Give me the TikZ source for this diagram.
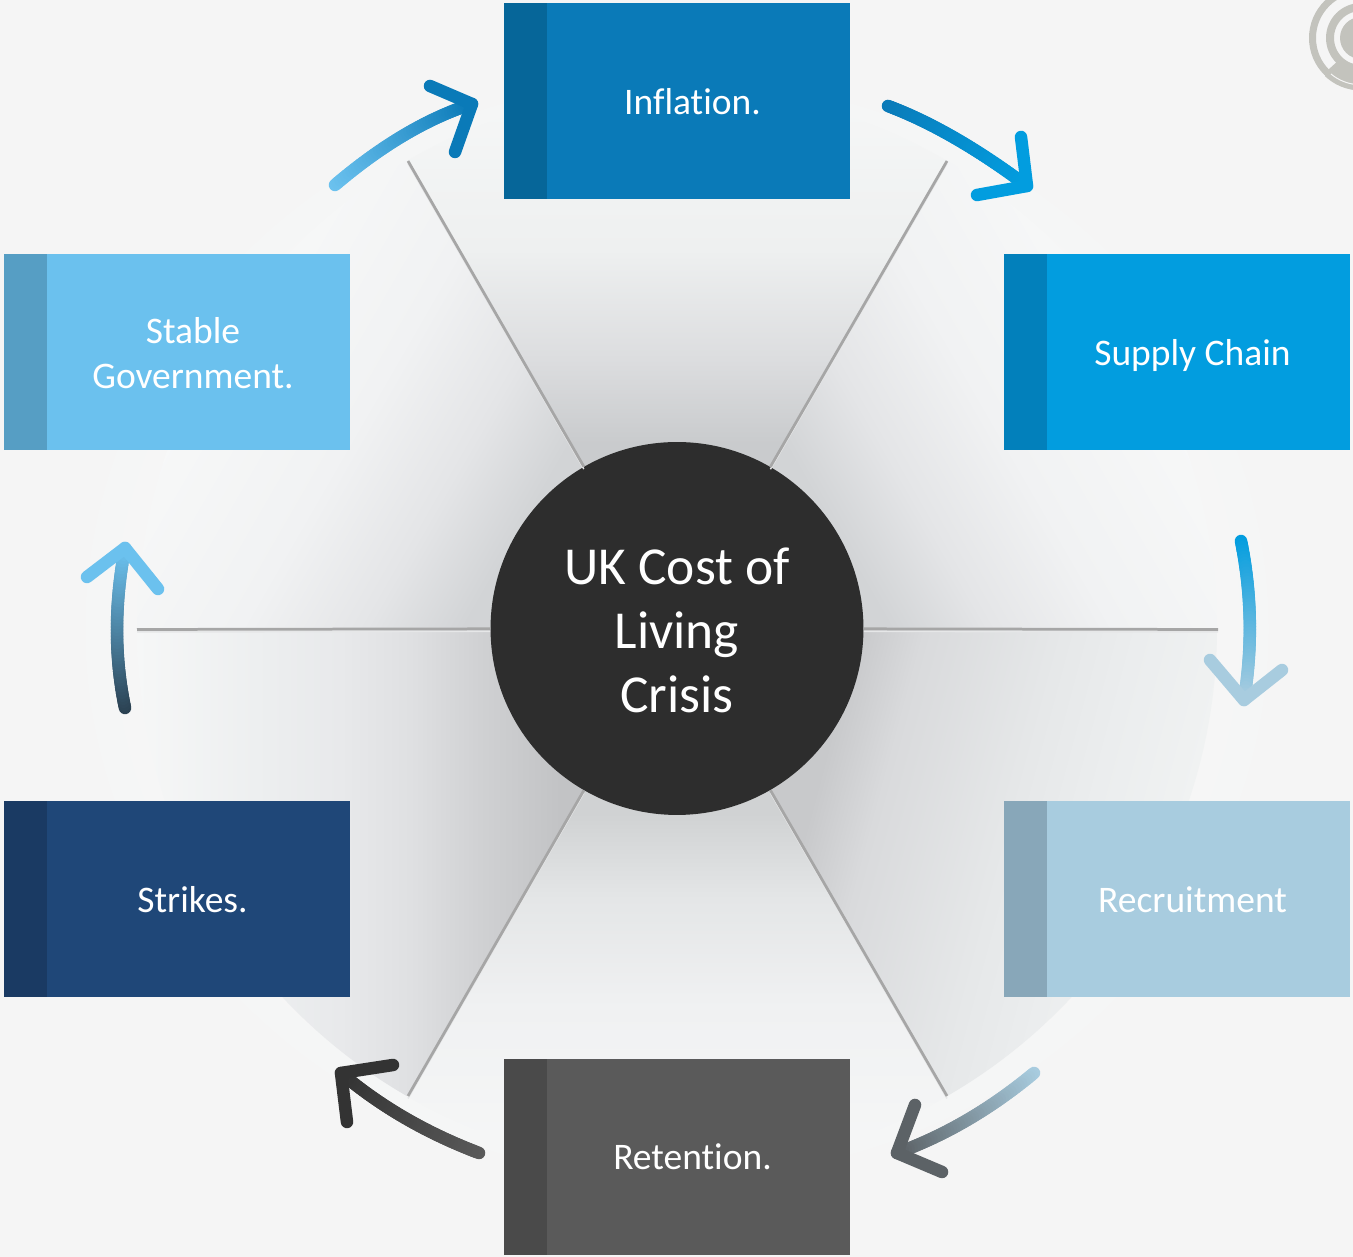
\documentclass[tikz,border=0pt]{standalone}
\usepackage{fontspec}
\setmainfont[Ligatures=NoCommon]{Carlito}
\usetikzlibrary{positioning,calc}
\definecolor{bgmid}{HTML}{F8F9F9}
\definecolor{bgout}{HTML}{F5F5F5}
\definecolor{hubgray}{HTML}{2D2D2D}
\definecolor{spokegray}{HTML}{A6A6A6}
\definecolor{spokeedge}{HTML}{E6E7E8}
\definecolor{logogray}{HTML}{C3C3BD}
\definecolor{inflmain}{HTML}{0A7AB8}
\definecolor{inflside}{HTML}{066699}
\definecolor{supplymain}{HTML}{029DDF}
\definecolor{supplyside}{HTML}{0280BB}
\definecolor{recrmain}{HTML}{A8CCDF}
\definecolor{recrside}{HTML}{88A7B9}
\definecolor{retnmain}{HTML}{5A5A5A}
\definecolor{retnside}{HTML}{4A4A4A}
\definecolor{strkmain}{HTML}{1F4778}
\definecolor{strkside}{HTML}{1A3A63}
\definecolor{stabmain}{HTML}{6BC1EE}
\definecolor{stabside}{HTML}{569EC4}
\definecolor{fourtip}{HTML}{5C6266}
\definecolor{fivetip}{HTML}{333333}
\definecolor{sixtail}{HTML}{2B4152}
% sector colours, from the hub out to the rim
\definecolor{topA}{HTML}{C9CBCD}
\definecolor{topB}{HTML}{DCDDDF}
\definecolor{topC}{HTML}{EEF0F0}
\definecolor{topD}{HTML}{F6F7F7}
\definecolor{sideA}{HTML}{D2D4D6}
\definecolor{sideB}{HTML}{E4E5E7}
\definecolor{sideC}{HTML}{F1F2F3}
\definecolor{sideD}{HTML}{F7F8F8}
\definecolor{botA}{HTML}{D0D2D3}
\definecolor{botB}{HTML}{E4E6E7}
\definecolor{botC}{HTML}{F0F1F2}
\definecolor{botD}{HTML}{F6F7F7}
\definecolor{lrA}{HTML}{C8C9CB}
\definecolor{lrB}{HTML}{D9DADC}
\definecolor{lrC}{HTML}{E6E8E9}
\definecolor{lrD}{HTML}{EBEDEE}
\definecolor{lrE}{HTML}{F0F2F2}
\definecolor{llA}{HTML}{C2C3C5}
\definecolor{llB}{HTML}{D0D1D3}
\definecolor{llC}{HTML}{DFE0E2}
\definecolor{llD}{HTML}{E8E9EB}
\definecolor{llE}{HTML}{ECEEEF}
\definecolor{llF}{HTML}{F6F7F7}
\pgfdeclarehorizontalshading{topshade}{620bp}{color(0bp)=(topA); color(105bp)=(topA); color(153bp)=(topB); color(215bp)=(topC); color(307bp)=(topD)}
\pgfdeclarehorizontalshading{sideshade}{620bp}{color(0bp)=(sideA); color(105bp)=(sideA); color(153bp)=(sideB); color(215bp)=(sideC); color(307bp)=(sideD)}
\pgfdeclarehorizontalshading{botshade}{620bp}{color(0bp)=(botA); color(105bp)=(botA); color(153bp)=(botB); color(215bp)=(botC); color(307bp)=(botD)}
\pgfdeclarehorizontalshading{lrshade}{620bp}{color(0bp)=(lrA); color(100bp)=(lrA); color(136bp)=(lrB); color(213bp)=(lrC); color(254bp)=(lrD); color(307bp)=(lrE)}
\pgfdeclarehorizontalshading{llshade}{620bp}{color(0bp)=(llA); color(66bp)=(llA); color(112bp)=(llB); color(151bp)=(llC); color(191bp)=(llD); color(231bp)=(llE); color(307bp)=(llF)}
\tikzset{
  tagbox/.style={rectangle, inner sep=0pt, outer sep=0pt, minimum width=6.92cm, minimum height=3.92cm},
  tagside/.style={rectangle, inner sep=0pt, outer sep=0pt, minimum width=0.86cm, minimum height=3.92cm},
  tagtext/.style={text=white, align=center, font=\fontsize{21.35}{25.5}\selectfont},
  hubnode/.style={circle, inner sep=0pt, minimum size=7.46cm, fill=hubgray},
  hubtext/.style={text=white, align=center, font=\fontsize{30.4}{36.6}\selectfont},
  spoke/.style={draw=spokegray, line width=0.055cm,
    preaction={draw=spokeedge, line width=0.03cm, transform canvas={yshift=-0.05cm}}}
}
% one sector: angle of its middle, angle of its gradient, shading
\newcommand{\hubsector}[3]{
  \begin{scope}
  \clip (677,628.5) -- ++(#1-30:540) arc[start angle=#1-30, end angle=#1+30, radius=540] -- cycle;
  \begin{scope}[transform canvas={shift={(677,628.5)},rotate=#2}]
  \pgftext[left,at=\pgfpointorigin]{\pgfuseshading{#3}}
  \end{scope}
  \end{scope}
}
% gradient arrow: name, start, control, tip, wing, wing, colours
\newcommand{\ringarrow}[8]{
  \coordinate (#1s) at #2;
  \coordinate (#1c) at #3;
  \coordinate (#1e) at #4;
  \coordinate (#1a) at #5;
  \coordinate (#1b) at #6;
  \foreach \k [evaluate=\k as \t using \k/50, evaluate=\k as \u using (\k+1)/50, evaluate=\k as \p using 2*\k] in {0,...,49}
    \draw[line width=0.25cm, line cap=round, draw=#8!\p!#7]
      ($($(#1s)!\t!(#1c)$)!\t!($(#1c)!\t!(#1e)$)$) -- ($($(#1s)!\u!(#1c)$)!\u!($(#1c)!\u!(#1e)$)$);
  \draw[line width=0.25cm, line cap=round, line join=round, draw=#8] (#1a) -- (#1e) -- (#1b);
}
\begin{document}
\begin{tikzpicture}[x=0.02cm,y=0.02cm]
\useasboundingbox (0,0) rectangle (1353,1257);
\shade[inner color=bgmid, outer color=bgout] (0,0) rectangle (1353,1257);

% faint mark in the corner
\begin{scope}
\clip (1361,1219) circle (52.5);
\draw[logogray, line width=0.14cm] (1361,1219) circle (48.5);
\draw[logogray, line width=0.16cm] (1361,1219) circle (31);
\fill[logogray] (1361,1219) circle (21);
\fill[logogray] (1328,1187) -- (1339,1197) -- (1353,1193) -- (1353,1150) -- (1310,1150) -- cycle;
\draw[bgout, line width=0.02cm] (1331,1183) arc[start angle=230, end angle=265, radius=46];
\end{scope}

% the six sectors
\hubsector{30}{30}{sideshade}
\hubsector{90}{90}{topshade}
\hubsector{150}{150}{sideshade}
\hubsector{210}{180}{llshade}
\hubsector{270}{270}{botshade}
\hubsector{330}{345}{lrshade}

\node[hubnode] (hub) at (677,628.5) {};
\node[hubtext] (hubtitle) at (677,626.5) {UK Cost of\\Living\\Crisis};
\coordinate (rimA) at (1218,627.5);
\coordinate (rimB) at (947,1096);
\coordinate (rimC) at (408,1096);
\coordinate (rimD) at (137,627.5);
\coordinate (rimE) at (408,161);
\coordinate (rimF) at (947,161);
\draw[spoke] (hub) -- (rimA);
\draw[spoke] (hub) -- (rimB);
\draw[spoke] (hub) -- (rimC);
\draw[spoke] (hub) -- (rimD);
\draw[spoke] (hub) -- (rimE);
\draw[spoke] (hub) -- (rimF);

\node[tagbox, fill=inflmain] (infl) at (677,1156) {};
\node[tagside, fill=inflside, right=0pt of infl.west] (inflside) {};
\node[tagtext] (infltext) at (692.5,1155) {Inflation.};

\node[tagbox, fill=supplymain] (supply) at (1177,905) {};
\node[tagside, fill=supplyside, right=0pt of supply.west] (supplyside) {};
\node[tagtext] (supplytext) at (1192.5,901) {Supply Chain};

\node[tagbox, fill=recrmain] (recr) at (1177,358) {};
\node[tagside, fill=recrside, right=0pt of recr.west] (recrside) {};
\node[tagtext] (recrtext) at (1192.5,357) {Recruitment};

\node[tagbox, fill=retnmain] (retn) at (677,100) {};
\node[tagside, fill=retnside, right=0pt of retn.west] (retnside) {};
\node[tagtext] (retntext) at (692.5,100) {Retention.};

\node[tagbox, fill=strkmain] (strk) at (177,358) {};
\node[tagside, fill=strkside, right=0pt of strk.west] (strkside) {};
\node[tagtext] (strktext) at (192.5,357) {Strikes.};

\node[tagbox, fill=stabmain] (stab) at (177,905) {};
\node[tagside, fill=stabside, right=0pt of stab.west] (stabside) {};
\node[tagtext] (stabtext) at (193,904) {Stable\\Government.};

\ringarrow{one}{(335,1072)}{(405,1131.5)}{(472,1153)}{(430,1171)}{(455,1105)}{stabmain}{inflmain}
\ringarrow{two}{(888,1151)}{(952,1127)}{(1027,1071)}{(1021,1120)}{(977,1062)}{inflmain}{supplymain}
\ringarrow{three}{(1241,716)}{(1257,637)}{(1244,557)}{(1210,597)}{(1282,587)}{supplymain}{recrmain}
\ringarrow{four}{(1034,184)}{(969,130)}{(897,104)}{(915,152)}{(942,85)}{recrmain}{fourtip}
\ringarrow{five}{(479,104)}{(400,134)}{(341,184)}{(393,192)}{(347,135)}{retnmain}{fivetip}
\ringarrow{six}{(125,549)}{(109,625)}{(125,709)}{(87,680)}{(158,668)}{sixtail}{stabmain}
\end{tikzpicture}
\end{document}
